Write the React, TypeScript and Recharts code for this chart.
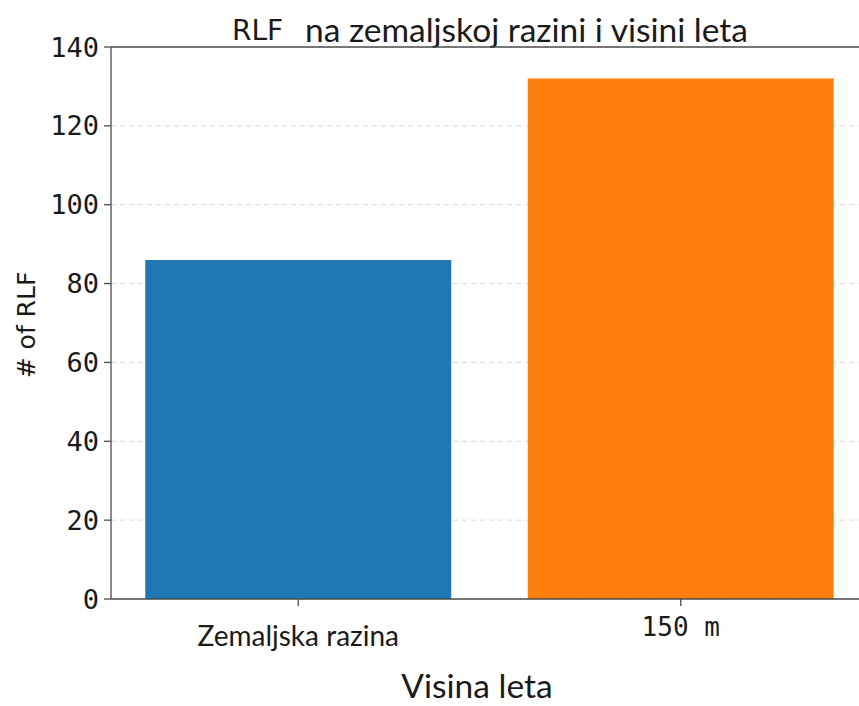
import React from "react";
import { BarChart, Bar, XAxis, YAxis, CartesianGrid, ReferenceLine, Cell, Customized } from "recharts";

const categories = ["Zemaljska razina", "150 m"];
const rlfCounts = [86, 132];
const barColors = ["#1f77b4", "#ff7f0e"];
const yTicks = [0, 20, 40, 60, 80, 100, 120, 140];

const data = categories.map((c, i) => ({ name: c, value: rlfCounts[i] }));

const SANS = "Lato, 'Open Sans', sans-serif";
const MONO = "'DejaVu Sans Mono', monospace";

const XTick = (props: any) => {
  const { x, y, payload } = props;
  const isFirst = payload.value === categories[0];
  return (
    <text
      x={x}
      y={isFirst ? y + 38 : y + 28}
      textAnchor="middle"
      fontFamily={isFirst ? SANS : MONO}
      fontSize={isFirst ? 28 : 26}
      fill="#1a1a1a"
    >
      {payload.value}
    </text>
  );
};

const Texts = () => (
  <g>
    <text x={232} y={40} fontFamily="'DejaVu Sans', sans-serif" fontSize={28} fill="#1a1a1a">RLF</text>
    <text x={305} y={42} fontFamily={SANS} fontSize={33.5} fill="#1a1a1a">na zemaljskoj razini i visini leta</text>
    <text x={477} y={698} textAnchor="middle" fontFamily={SANS} fontSize={33.5} fill="#1a1a1a">Visina leta</text>
    <text transform="translate(35,325) rotate(-90)" textAnchor="middle" fontFamily="'DejaVu Sans', sans-serif" fontSize={25} fill="#1a1a1a"># of RLF</text>
  </g>
);

export default function App() {
  return (
    <div style={{ position: "absolute", left: 0, top: 0, width: 859, height: 706, overflow: "hidden", background: "#fff" }}>
      <BarChart
        width={870}
        height={706}
        data={data}
        margin={{ top: 47, right: 2, bottom: 47, left: 0 }}
        barCategoryGap="10%"
      >
        <CartesianGrid vertical={false} stroke="#d9d9d9" strokeDasharray="5 4" />
        <XAxis
          dataKey="name"
          height={60}
          padding={{ left: -4, right: -4 }}
          tick={<XTick />}
          tickSize={7}
          stroke="#4d4d4d"
          strokeWidth={1.3}
          interval={0}
        />
        <YAxis
          width={111}
          domain={[0, 140]}
          ticks={yTicks}
          tickSize={7}
          tickMargin={5}
          stroke="#4d4d4d"
          strokeWidth={1.3}
          tick={{ fontFamily: MONO, fontSize: 27, fill: "#1a1a1a" }}
          allowDataOverflow
        />
        <ReferenceLine y={140} stroke="#4d4d4d" strokeWidth={1.5} />
        <Bar dataKey="value" isAnimationActive={false}>
          {data.map((d, i) => (
            <Cell key={d.name} fill={barColors[i]} />
          ))}
        </Bar>
        <Customized component={<Texts />} />
      </BarChart>
    </div>
  );
}
